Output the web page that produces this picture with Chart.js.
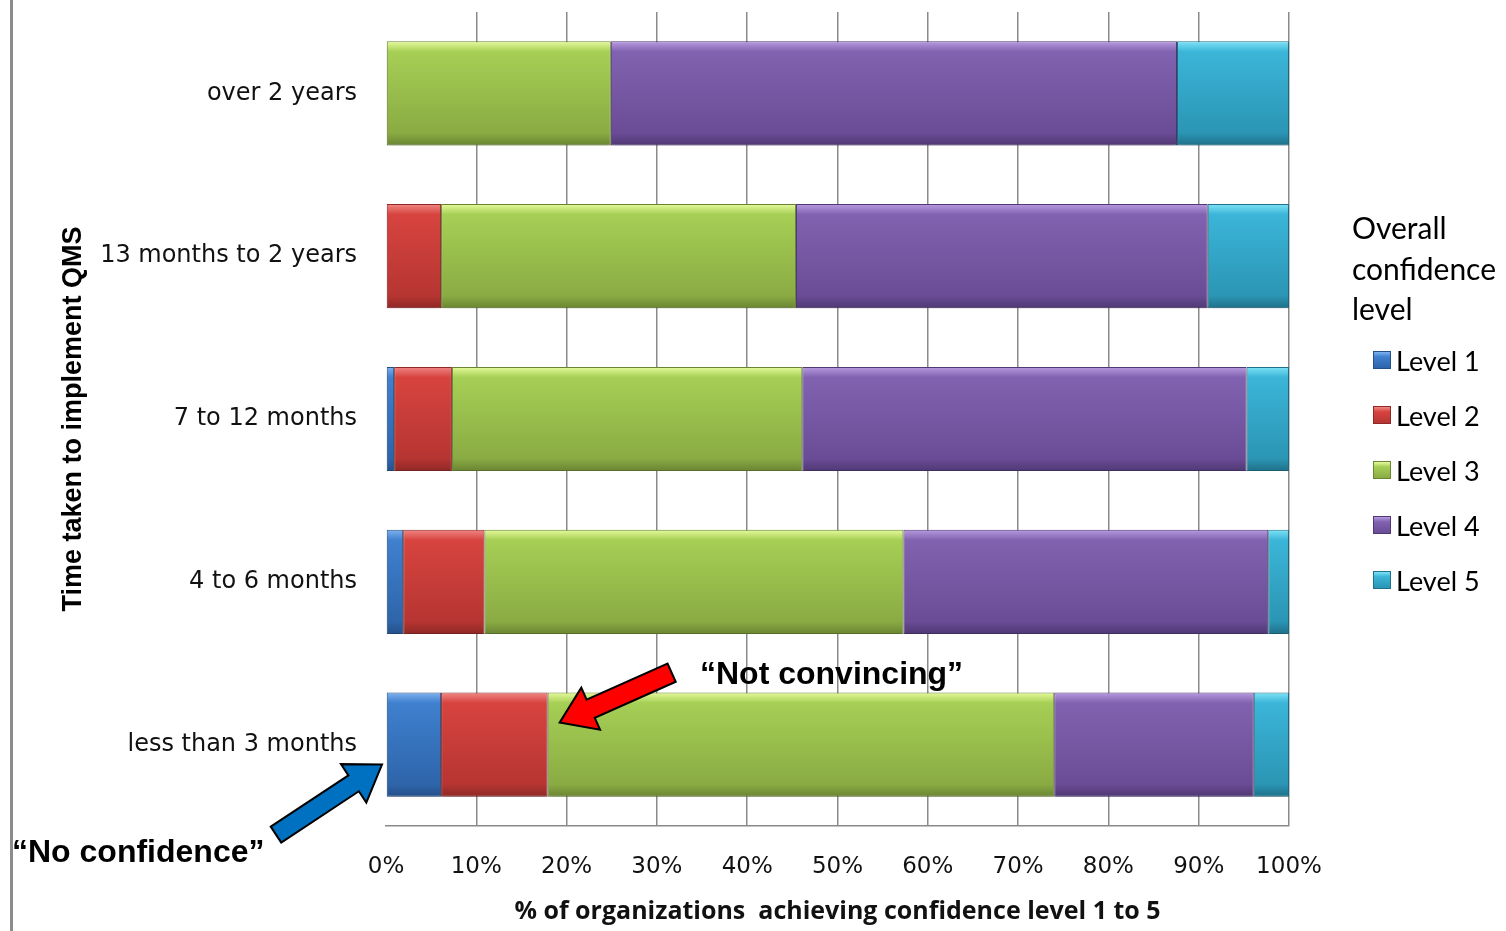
<!DOCTYPE html>
<html>
<head>
<meta charset="utf-8">
<script src="https://cdn.jsdelivr.net/npm/chart.js@4.4.1/dist/chart.umd.min.js"></script>
<style>
    html, body { margin: 0; padding: 0; background: #fff; }
    #wrap { position: relative; width: 1506px; height: 931px; overflow: hidden; }
    #edge { position: absolute; left: 10px; top: 0; width: 3px; height: 931px; background: #8c8c8c; }
    #legend { position: absolute; left: 1352px; top: 207px; font-family: Lato, sans-serif; color: #000; }
    #legend .title { font-size: 30px; line-height: 40.5px; margin-bottom: 4px; }
    #legend .item { display: flex; align-items: center; height: 55px; margin-left: 21px; font-size: 27px; }
    #legend .box { width: 18px; height: 18px; margin-right: 5px; box-sizing: border-box; }
</style>
</head>
<body>
<div id="wrap">
    <canvas id="qmsChart" width="1506" height="931"></canvas>
    <div id="edge"></div>
    <div id="legend">
        <div class="title">Overall<br>confidence<br>level</div>
        <div id="legendItems"></div>
    </div>
</div>
<script>
const categories = ["over 2 years", "13 months to 2 years", "7 to 12 months", "4 to 6 months", "less than 3 months"];
const seriesNames = ["Level 1", "Level 2", "Level 3", "Level 4", "Level 5"];
const level1 = [0, 0, 0.9, 1.9, 6.1];
const level2 = [0, 6.1, 6.4, 9.0, 11.8];
const level3 = [24.9, 39.3, 38.8, 46.4, 56.1];
const level4 = [62.7, 45.6, 49.2, 40.4, 22.1];
const level5 = [12.4, 9.0, 4.7, 2.3, 3.9];
const xTicks = [0, 10, 20, 30, 40, 50, 60, 70, 80, 90, 100];

// light top, body, dark edge
const palettes = [
    ["#7fb2ee", "#3f80cf", "#2e65aa", "#24508a"],
    ["#f08784", "#d7443f", "#b63532", "#8f2826"],
    ["#e6fb9c", "#a6cf55", "#8aab43", "#6a8533"],
    ["#b89be0", "#8062b0", "#6a4c96", "#4f3873"],
    ["#7fe3f7", "#3bb5d8", "#2b95b4", "#1f7089"]
];

const BAR_PCT = 0.64;

function barFill(p) {
    return (ctx) => {
        const chart = ctx.chart;
        const y = chart.scales.y;
        if (!chart.chartArea || !y) return p[1];
        const center = y.getPixelForValue(ctx.dataIndex);
        const half = (y.height / categories.length) * BAR_PCT / 2;
        const g = chart.ctx.createLinearGradient(0, center - half, 0, center + half);
        g.addColorStop(0, p[0]);
        g.addColorStop(0.1, p[1]);
        g.addColorStop(0.88, p[2]);
        g.addColorStop(1, p[3]);
        return g;
    };
}

const seriesData = [level1, level2, level3, level4, level5];
const datasets = seriesData.map((d, i) => ({
    label: seriesNames[i],
    data: d,
    backgroundColor: barFill(palettes[i]),
    borderColor: palettes[i][3],
    borderWidth: 1,
    borderSkipped: false,
    barPercentage: BAR_PCT,
    categoryPercentage: 1
}));

// html legend
const legendItems = document.getElementById("legendItems");
seriesNames.forEach((name, i) => {
    const row = document.createElement("div");
    row.className = "item";
    const box = document.createElement("span");
    box.className = "box";
    box.style.background = `linear-gradient(${palettes[i][0]}, ${palettes[i][1]} 30%, ${palettes[i][2]})`;
    box.style.border = `1px solid ${palettes[i][3]}`;
    const label = document.createElement("span");
    label.textContent = name;
    row.appendChild(box);
    row.appendChild(label);
    legendItems.appendChild(row);
});

// soft shadow under the bars
const barShadow = {
    id: "barShadow",
    beforeDatasetsDraw(chart) {
        const c = chart.ctx;
        c.save();
        c.shadowColor = "rgba(0,0,0,0.22)";
        c.shadowBlur = 5;
        c.shadowOffsetY = 4;
    },
    afterDatasetsDraw(chart) {
        chart.ctx.restore();
    }
};

function drawArrow(c, tx, ty, hx, hy, shaft, headHalf, headLen, fill) {
    const ang = Math.atan2(hy - ty, hx - tx);
    const len = Math.hypot(hx - tx, hy - ty);
    c.save();
    c.translate(tx, ty);
    c.rotate(ang);
    c.beginPath();
    c.moveTo(0, -shaft / 2);
    c.lineTo(len - headLen, -shaft / 2);
    c.lineTo(len - headLen, -headHalf);
    c.lineTo(len, 0);
    c.lineTo(len - headLen, headHalf);
    c.lineTo(len - headLen, shaft / 2);
    c.lineTo(0, shaft / 2);
    c.closePath();
    c.fillStyle = fill;
    c.fill();
    c.lineWidth = 2;
    c.strokeStyle = "#000";
    c.stroke();
    c.restore();
}

// callouts pointing at the "less than 3 months" bar
const callouts = {
    id: "callouts",
    afterDraw(chart) {
        const c = chart.ctx;
        const x = chart.scales.x;
        const y = chart.scales.y;
        const last = categories.length - 1;
        const cy = y.getPixelForValue(last);
        const x0 = x.getPixelForValue(0);
        const x12 = x.getPixelForValue(level1[last] + level2[last]);

        drawArrow(c, x12 + 124, cy - 72, x12 + 12, cy - 22, 20, 23, 34, "#ff0000");
        drawArrow(c, x0 - 110, cy + 90, x0 - 4, cy + 20, 19, 23, 34, "#0070c0");

        c.save();
        c.fillStyle = "#000";
        c.font = "bold 32px 'Liberation Sans', Arial, sans-serif";
        c.textBaseline = "middle";
        c.textAlign = "left";
        c.fillText("\u201cNot convincing\u201d", 700, 675);
        c.fillText("\u201cNo confidence\u201d", 12, 853);
        c.restore();
    }
};

new Chart(document.getElementById("qmsChart"), {
    type: "bar",
    data: { labels: categories, datasets },
    options: {
        indexAxis: "y",
        responsive: false,
        animation: false,
        events: [],
        layout: { padding: { left: 57, right: 217, top: 12, bottom: 0 } },
        plugins: {
            legend: { display: false },
            tooltip: { enabled: false }
        },
        scales: {
            x: {
                stacked: true,
                min: 0,
                max: 100,
                afterBuildTicks: (axis) => { axis.ticks = xTicks.map(v => ({ value: v })); },
                afterFit: (axis) => { axis.height = 105; },
                grid: {
                    color: (ctx) => ctx.index === 0 ? "rgba(0,0,0,0)" : "#8a8a8a",
                    lineWidth: 1.5,
                    drawTicks: false
                },
                border: { display: true, color: "#8a8a8a", width: 1.5 },
                ticks: {
                    padding: 27,
                    color: "#111",
                    font: { family: "'DejaVu Sans'", size: 23 },
                    callback: (v) => v + "%"
                },
                title: {
                    display: true,
                    text: "% of organizations  achieving confidence level 1 to 5",
                    color: "#111",
                    font: { family: "'Open Sans'", size: 25, weight: "bold" },
                    padding: { top: 0, bottom: 4 }
                }
            },
            y: {
                stacked: true,
                afterFit: (axis) => {
                    axis.width = 386 - 57;
                    axis.paddingTop = 0;
                    axis.paddingBottom = 0;
                },
                grid: { display: false, drawTicks: false },
                border: { display: false },
                ticks: {
                    padding: 29,
                    color: "#111",
                    font: { family: "'DejaVu Sans'", size: 24 }
                },
                title: {
                    display: true,
                    text: "Time taken to implement QMS",
                    color: "#000",
                    font: { family: "'Liberation Sans'", size: 27, weight: "bold" },
                    padding: { top: 0, bottom: 0 }
                }
            }
        }
    },
    plugins: [barShadow, callouts]
});
</script>
</body>
</html>
